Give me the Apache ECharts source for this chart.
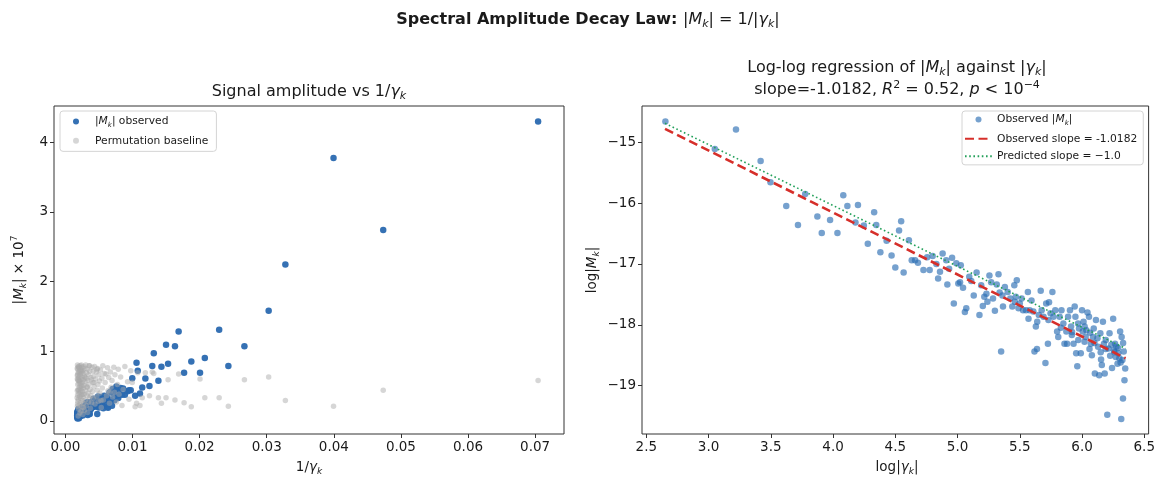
<!DOCTYPE html>
<html>
<head>
<meta charset="utf-8">
<script src="https://cdn.jsdelivr.net/npm/echarts@6/dist/echarts.min.js"></script>
<style>
  html, body { margin: 0; padding: 0; background: #fff; }
  #main { width: 1158px; height: 479px; }
</style>
</head>
<body>
<div id="main"></div>
<script>
// log|gamma_k| and log|M_k| (same points as the left panel)
var obsLogGamma = [
  2.653, 3.05, 3.22, 3.418, 3.497, 3.624, 3.718, 3.776, 3.874, 3.909,
  3.976, 4.035, 4.082, 4.115, 4.18, 4.20, 4.247, 4.279, 4.33, 4.347,
  4.38, 4.43, 4.47, 4.50, 4.53, 4.547, 4.567, 4.609, 4.632, 4.659,
  4.682, 4.726, 4.756, 4.776, 4.80, 4.83, 4.844, 4.859, 4.88, 4.909,
  4.918, 4.932, 4.956, 4.97, 4.99, 5.006, 5.026, 5.044, 5.059, 5.07,
  5.094, 5.13, 5.153, 5.176, 5.19, 5.203, 5.215, 5.232, 5.256, 5.27,
  5.285, 5.30, 5.315, 5.329, 5.338, 5.35, 5.365, 5.38, 5.403, 5.424,
  5.44, 5.456, 5.468, 5.476, 5.49, 5.50, 5.515, 5.526, 5.55, 5.565,
  5.579, 5.594, 5.609, 5.618, 5.629, 5.638, 5.653, 5.668, 5.676, 5.691,
  5.706, 5.712, 5.726, 5.735, 5.747, 5.762, 5.77, 5.785, 5.80, 5.809,
  5.82, 5.835, 5.85, 5.859, 5.874, 5.88, 5.888, 5.903, 5.912, 5.918,
  5.932, 5.941, 5.947, 5.953, 5.962, 5.968, 5.976, 5.99, 6.00, 6.006,
  6.012, 6.021, 6.029, 6.035, 6.044, 6.056, 6.065, 6.071, 6.079, 6.088,
  6.094, 6.103, 6.112, 6.124, 6.129, 6.138, 6.147, 6.153, 6.159, 6.168,
  6.176, 6.182, 6.191, 6.203, 6.212, 6.221, 6.226, 6.235, 6.241, 6.25,
  6.256, 6.265, 6.271, 6.276, 6.285, 6.291, 6.30, 6.306, 6.315, 6.318,
  6.324, 6.329, 6.335, 6.341, 6.347,
  5.02, 5.11, 5.24, 5.36, 5.46, 5.57, 5.64, 5.73, 5.83, 5.92,
  6.02, 6.10, 6.19, 6.26, 6.31, 6.33, 6.06, 5.97, 6.15, 6.29
];
var obsLogAmp = [
  -14.66, -15.11, -14.79, -15.31, -15.66, -16.05, -16.36, -15.85, -16.22, -16.49,
  -16.28, -16.49, -15.87, -16.05, -16.32, -16.03, -16.37, -16.67, -16.15, -16.36,
  -16.81, -16.62, -16.86, -17.06, -16.45, -16.30, -17.14, -16.61, -16.94, -16.94,
  -16.98, -17.10, -16.89, -17.10, -16.87, -17.00, -17.24, -17.13, -16.83, -16.94,
  -17.34, -17.08, -16.90, -17.65, -16.99, -17.32, -17.02, -17.39, -17.79, -17.73,
  -17.21, -17.52, -17.14, -17.84, -17.35, -17.69, -17.54, -17.49, -17.19, -17.30,
  -17.57, -17.77, -17.34, -17.17, -17.47, -18.44, -17.70, -17.38, -17.46, -17.57,
  -17.70, -17.35, -17.54, -17.27, -17.73, -17.65, -17.57, -17.76, -17.76, -17.46,
  -17.76, -17.60, -17.78, -18.44, -18.03, -18.40, -17.84, -17.44, -17.76, -17.87,
  -18.63, -17.65, -18.31, -17.63, -17.81, -17.46, -17.87, -17.76, -18.11, -18.20,
  -17.87, -17.76, -17.98, -18.31, -18.11, -18.31, -17.87, -17.76, -18.03, -18.17,
  -18.31, -17.70, -17.87, -18.47, -18.68, -17.98, -18.06, -18.47, -17.76, -18.11,
  -17.95, -18.03, -18.20, -18.09, -17.80, -17.87, -18.13, -18.31, -18.50, -18.20,
  -18.06, -18.80, -17.92, -18.22, -18.36, -18.83, -18.14, -18.57, -18.66, -17.95,
  -18.31, -18.80, -18.25, -19.48, -18.39, -18.14, -18.51, -18.33, -18.71, -17.90,
  -18.42, -18.31, -18.53, -18.36, -18.64, -18.47, -18.55, -18.11, -19.55, -18.20,
  -18.58, -19.21, -18.44, -18.91, -18.72,
  -17.30, -17.28, -17.62, -17.52, -17.62, -17.90, -17.95, -17.92, -18.05, -18.12,
  -18.28, -18.30, -18.40, -18.45, -18.62, -18.30, -18.40, -18.25, -18.45, -18.38
];
// permutation baseline amplitude (x 1e7), one per zero, same order
var baseAmp = [
  0.58, 0.44, 0.21, 0.29, 0.63, 0.59, 0.21, 0.33, 0.33, 0.60,
  0.20, 0.26, 0.67, 0.30, 0.59, 0.33, 0.25, 0.33, 0.68, 0.70,
  0.36, 0.69, 0.33, 0.22, 0.69, 0.25, 0.20, 0.55,
  0.72, 0.31, 0.56, 0.78, 0.45, 0.22, 0.63, 0.38, 0.74, 0.52,
  0.27, 0.66, 0.41, 0.77, 0.34, 0.58, 0.48, 0.70, 0.25, 0.62,
  0.43, 0.76, 0.36,
  0.55, 0.68, 0.30, 0.79, 0.47, 0.61, 0.19, 0.73, 0.40, 0.57,
  0.66, 0.28, 0.52, 0.75, 0.44, 0.35, 0.70, 0.60, 0.24, 0.78,
  0.49, 0.64, 0.32, 0.71, 0.55, 0.42, 0.77, 0.26, 0.59,
  0.62, 0.18, 0.45, 0.71, 0.33, 0.79, 0.52, 0.27, 0.66, 0.40,
  0.58, 0.12, 0.74, 0.36, 0.49, 0.69, 0.22, 0.61, 0.80, 0.43,
  0.30, 0.56, 0.75, 0.15, 0.64, 0.38, 0.51, 0.78, 0.25, 0.47,
  0.68, 0.34, 0.59, 0.09, 0.72, 0.42, 0.55, 0.29, 0.77, 0.63,
  0.20, 0.50, 0.70, 0.37, 0.80, 0.46, 0.14, 0.60, 0.32, 0.73,
  0.54, 0.26, 0.67, 0.41, 0.79, 0.11, 0.57, 0.35, 0.65, 0.48,
  0.76, 0.23, 0.53, 0.70, 0.39, 0.62, 0.17, 0.44, 0.78, 0.31,
  0.58, 0.07, 0.69, 0.45, 0.74, 0.28, 0.52, 0.66, 0.37, 0.80,
  0.21, 0.60, 0.43, 0.75, 0.33,
  0.41, 0.67, 0.29, 0.74, 0.55, 0.36, 0.79, 0.48, 0.62, 0.19,
  0.71, 0.44, 0.57, 0.77, 0.24, 0.65, 0.50, 0.38, 0.72, 0.59
];
// fitted lines (end points)
var fitObserved = [[2.65, -14.78], [6.35, -18.55]];
var fitPredicted = [[2.65, -14.69], [6.35, -18.39]];

var leftXTicks = [0, 0.01, 0.02, 0.03, 0.04, 0.05, 0.06, 0.07];
var leftYTicks = [0, 1, 2, 3, 4];
var rightXTicks = [2.5, 3.0, 3.5, 4.0, 4.5, 5.0, 5.5, 6.0, 6.5];
var rightYTicks = [-19, -18, -17, -16, -15];

var FONT = 'DejaVu Sans';
var INK = '#1a1a1a';

function mathRich(size) {
  var sub = Math.round(size * 0.7);
  return {
    n: {fontSize: size, fontFamily: FONT, color: INK, lineHeight: size + 4},
    b: {fontSize: size, fontFamily: FONT, color: INK, fontWeight: 'bold', lineHeight: size + 4},
    i: {fontSize: size, fontFamily: FONT, color: INK, fontStyle: 'italic', lineHeight: size + 4},
    s: {fontSize: sub, fontFamily: FONT, color: INK, fontStyle: 'italic', verticalAlign: 'bottom', lineHeight: sub},
    p: {fontSize: sub, fontFamily: FONT, color: INK, verticalAlign: 'top', lineHeight: sub}
  };
}

function txt(x, y, text, size, rot) {
  return {
    type: 'text', x: x, y: y, rotation: rot || 0, silent: true,
    style: {
      text: text, rich: mathRich(size),
      align: 'center', verticalAlign: 'middle',
      textAlign: 'center', textVerticalAlign: 'middle',
      fontSize: size, fontFamily: FONT, fill: INK
    }
  };
}

var minus = function (v) { return (v < 0 ? '\u2212' : '') + Math.abs(v); };

function valueAxis(gi, min, max, ticks, fmt) {
  return {
    type: 'value', gridIndex: gi, min: min, max: max, scale: true,
    axisLine: {show: false, onZero: false},
    splitLine: {show: false},
    axisTick: {show: true, customValues: ticks, length: 4, lineStyle: {color: '#333', width: 1}},
    axisLabel: {customValues: ticks, formatter: fmt, fontSize: 13.5, fontFamily: FONT, color: INK, margin: 6}
  };
}

// left panel coordinates: 1/gamma vs |M| x 1e7
var leftObs = [], leftBase = [], rightObs = [];
for (var i = 0; i < obsLogGamma.length; i++) {
  var g = Math.exp(obsLogGamma[i]);
  leftObs.push([1 / g, Math.exp(obsLogAmp[i]) * 1e7]);
  leftBase.push([1 / g, baseAmp[i]]);
  rightObs.push([obsLogGamma[i], obsLogAmp[i]]);
}

var legendText = {
  'obsLeft': '{n||}{i|M}{s|k}{n|| observed}',
  'Permutation baseline': '{n|Permutation baseline}',
  'obsRight': '{n|Observed |}{i|M}{s|k}{n||}',
  'Observed slope = -1.0182': '{n|Observed slope = -1.0182}',
  'Predicted slope = \u22121.0': '{n|Predicted slope = \u22121.0}'
};

var legendBase = {
  orient: 'vertical', itemGap: 6.5, itemHeight: 6,
  borderColor: '#d4d4d4', borderWidth: 1, borderRadius: 3,
  backgroundColor: 'rgba(255,255,255,0.85)',
  selectedMode: false,
  formatter: function (name) { return legendText[name]; },
  textStyle: {fontSize: 10.7, fontFamily: FONT, color: INK, rich: mathRich(10.7)}
};

var chart = echarts.init(document.getElementById('main'), null, {renderer: 'canvas'});
chart.setOption({
  backgroundColor: '#fff',
  animation: false,
  grid: [
    {left: 54, top: 106, width: 510, height: 328, show: true, borderColor: '#333', borderWidth: 1, backgroundColor: 'transparent'},
    {left: 642, top: 106, width: 510, height: 328, show: true, borderColor: '#333', borderWidth: 1, backgroundColor: 'transparent'}
  ],
  xAxis: [
    valueAxis(0, -0.0017, 0.0743, leftXTicks, function (v) { return v.toFixed(2); }),
    valueAxis(1, 2.465, 6.535, rightXTicks, function (v) { return v.toFixed(1); })
  ],
  yAxis: [
    valueAxis(0, -0.19, 4.52, leftYTicks, function (v) { return String(v); }),
    valueAxis(1, -19.795, -14.405, rightYTicks, minus)
  ],
  legend: [
    Object.assign({}, legendBase, {
      left: 60, top: 111, padding: [5, 8, 5, 13], itemWidth: 28,
      data: [{name: 'obsLeft', icon: 'circle'}, {name: 'Permutation baseline', icon: 'circle'}]
    }),
    Object.assign({}, legendBase, {
      left: 962, top: 111, padding: [3, 6, 3, 2], itemWidth: 27,
      data: [
        {name: 'obsRight', icon: 'circle'},
        {name: 'Observed slope = -1.0182', itemStyle: {opacity: 0}},
        {name: 'Predicted slope = \u22121.0', itemStyle: {opacity: 0}}
      ]
    })
  ],
  graphic: [
    txt(588, 20, '{b|Spectral Amplitude Decay Law: }{n||}{i|M}{s|k}{n|| = 1/|}{i|\u03b3}{s|k}{n||}', 16),
    txt(309, 92, '{n|Signal amplitude vs 1/}{i|\u03b3}{s|k}', 16),
    txt(897, 68, '{n|Log-log regression of |}{i|M}{s|k}{n|| against |}{i|\u03b3}{s|k}{n||}', 16),
    txt(897, 90, '{n|slope=-1.0182, }{i|R}{p|2}{n| = 0.52, }{i|p}{n| < 10}{p|\u22124}', 16),
    txt(309, 467, '{n|1/}{i|\u03b3}{s|k}', 13.5),
    txt(897, 467, '{n|log|}{i|\u03b3}{s|k}{n||}', 13.5),
    txt(19, 270, '{n||}{i|M}{s|k}{n|| \u00d7 10}{p|7}', 13.5, Math.PI / 2),
    txt(592, 270, '{n|log|}{i|M}{s|k}{n||}', 13.5, Math.PI / 2)
  ],
  series: [
    {
      name: 'obsLeft', type: 'scatter', xAxisIndex: 0, yAxisIndex: 0,
      data: leftObs, symbolSize: 6.5,
      itemStyle: {color: '#2a69b0', opacity: 0.95}, z: 2
    },
    {
      name: 'Permutation baseline', type: 'scatter', xAxisIndex: 0, yAxisIndex: 0,
      data: leftBase, symbolSize: 5.5,
      itemStyle: {color: 'rgba(170,170,170,0.6)'}, z: 3
    },
    {
      name: 'obsRight', type: 'scatter', xAxisIndex: 1, yAxisIndex: 1,
      data: rightObs, symbolSize: 6.5,
      itemStyle: {color: 'rgba(40,108,178,0.8)'}, z: 2
    },
    {
      name: 'Observed slope = -1.0182', type: 'line', xAxisIndex: 1, yAxisIndex: 1,
      data: fitObserved, symbol: 'none', z: 4,
      lineStyle: {color: '#d62f2a', width: 2.6, type: [9, 4.5]}
    },
    {
      name: 'Predicted slope = \u22121.0', type: 'line', xAxisIndex: 1, yAxisIndex: 1,
      data: fitPredicted, symbol: 'none', z: 5,
      lineStyle: {color: '#23a05a', width: 1.6, type: [1.6, 2.6]}
    }
  ]
});
</script>
</body>
</html>
